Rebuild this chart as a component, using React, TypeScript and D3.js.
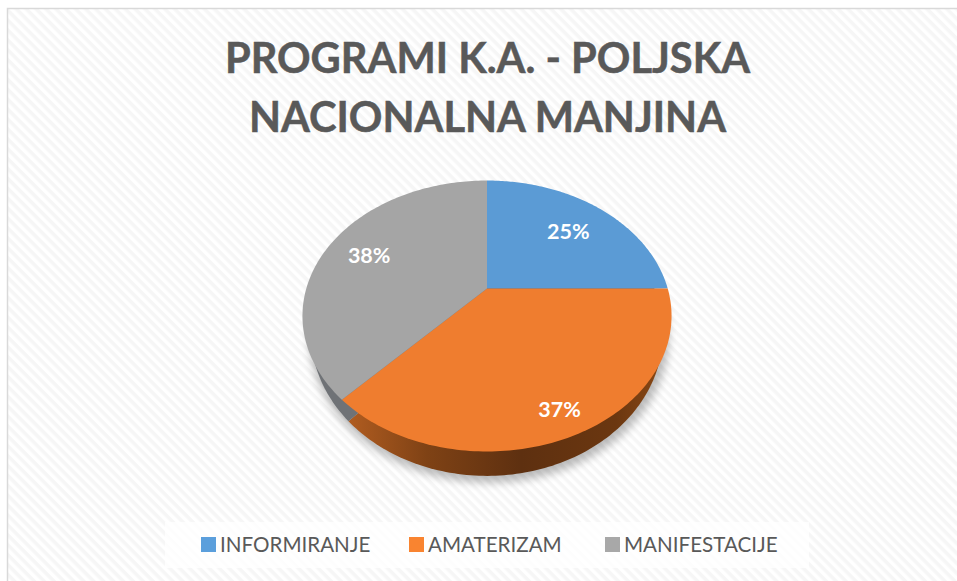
import React, { useEffect, useRef } from 'react';
import * as d3 from 'd3';

const categories = ['INFORMIRANJE', 'AMATERIZAM', 'MANIFESTACIJE'];
const shares = [25, 37, 38];
const topColors = ['#5b9bd5', '#ef7d2f', '#a5a5a5'];
const legendColors = ['#5b9fdc', '#f98430', '#a8a8a8'];
const titleLines = ['PROGRAMI K.A. - POLJSKA', 'NACIONALNA MANJINA'];

const FONT = 'Lato, "Open Sans", sans-serif';
const TILT = 0.203; // perspective of the pie disc

// disc in perspective: x/y of an angle (0 = top, clockwise) at radius r (0..1)
const projector = (cx, cy, rx, ry) => (angle, r = 1) => {
  const u = Math.sin(angle) * r;
  const v = -Math.cos(angle) * r;
  const w = 1 - TILT * v;
  return [cx + (rx * u) / w, cy + (ry * v) / w];
};

const App = () => {
  const svgRef = useRef(null);

  useEffect(() => {
    const svg = d3.select(svgRef.current);
    svg.selectAll('*').remove();

    const width = 957;
    const height = 581;
    const defs = svg.append('defs');

    // hatch background
    const hatch = defs
      .append('pattern')
      .attr('id', 'hatch')
      .attr('width', 7)
      .attr('height', 7)
      .attr('patternUnits', 'userSpaceOnUse')
      .attr('patternTransform', 'rotate(45)');
    hatch.append('rect').attr('width', 7).attr('height', 7).attr('fill', '#ffffff');
    hatch.append('rect').attr('width', 7).attr('height', 3.5).attr('fill', '#f6f6f6');

    const blur = defs.append('filter').attr('id', 'soft').attr('x', '-20%').attr('y', '-20%').attr('width', '140%').attr('height', '140%');
    blur.append('feGaussianBlur').attr('stdDeviation', 4);

    const sideOrange = defs.append('linearGradient').attr('id', 'sideOrange');
    [['0%', '#b05c20'], ['25%', '#7f4215'], ['55%', '#5e3010'], ['85%', '#6b3710'], ['100%', '#8a4815']].forEach(([o, c]) =>
      sideOrange.append('stop').attr('offset', o).attr('stop-color', c)
    );

    svg.append('rect').attr('width', width).attr('height', height).attr('fill', '#ffffff');
    svg.append('rect').attr('x', 7).attr('y', 8).attr('width', width - 7).attr('height', height - 8).attr('fill', 'url(#hatch)');
    svg.append('path').attr('d', `M7.5,${height}V8.5H${width}`).attr('fill', 'none').attr('stroke', '#d9d9d9').attr('stroke-width', 1.5);

    // title
    svg
      .selectAll('.title')
      .data(titleLines)
      .enter()
      .append('text')
      .attr('x', 487.5)
      .attr('y', (d, i) => 73 + i * 59)
      .attr('text-anchor', 'middle')
      .attr('font-family', FONT)
      .attr('font-weight', 700)
      .attr('font-size', 41.6)
      .attr('fill', '#595959')
      .attr('stroke', '#595959')
      .attr('stroke-width', 0.5)
      .text(d => d);

    // pie
    const arcs = d3.pie().sort(null).value(d => d)(shares);
    const line = d3.line();
    const top = projector(487, 288.5, 180.7, 129.9);
    const bottom = projector(487, 304, 172.4, 137);

    const wedge = (project, a) => {
      const steps = d3.range(0, 121).map(i => a.startAngle + ((a.endAngle - a.startAngle) * i) / 120);
      return `${line([project(0, 0), ...steps.map(t => project(t))])}Z`;
    };
    const disc = project => `${line(d3.range(0, 241).map(i => project((i / 240) * 2 * Math.PI)))}Z`;

    svg
      .append('path')
      .attr('d', disc(projector(489, 307, 176, 140)))
      .attr('fill', '#000000')
      .attr('opacity', 0.26)
      .attr('filter', 'url(#soft)');

    svg
      .selectAll('.side')
      .data(arcs)
      .enter()
      .append('path')
      .attr('d', d => wedge(bottom, d))
      .attr('fill', (d, i) => (i === 2 ? '#6f7276' : i === 1 ? 'url(#sideOrange)' : '#3f6f9c'));

    svg
      .selectAll('.slice')
      .data(arcs)
      .enter()
      .append('path')
      .attr('d', d => wedge(top, d))
      .attr('fill', (d, i) => topColors[i]);

    // value labels
    const labelSpots = [0.7, 0.85, 0.74];
    svg
      .selectAll('.pct')
      .data(arcs)
      .enter()
      .append('text')
      .attr('x', (d, i) => top((d.startAngle + d.endAngle) / 2, labelSpots[i])[0])
      .attr('y', (d, i) => top((d.startAngle + d.endAngle) / 2, labelSpots[i])[1] + 8.5)
      .attr('text-anchor', 'middle')
      .attr('font-family', FONT)
      .attr('font-weight', 700)
      .attr('font-size', 21.5)
      .attr('fill', '#ffffff')
      .text(d => `${d.data}%`);

    // legend
    svg.append('rect').attr('x', 165).attr('y', 522).attr('width', 644).attr('height', 46).attr('fill', '#ffffff').attr('opacity', 0.8);
    const legendX = d3.scaleOrdinal().domain(categories).range([201, 409, 605]);
    const legend = svg
      .selectAll('.legend')
      .data(categories)
      .enter()
      .append('g')
      .attr('transform', d => `translate(${legendX(d)},537)`);
    legend.append('rect').attr('width', 15).attr('height', 15).attr('fill', (d, i) => legendColors[i]);
    legend
      .append('text')
      .attr('x', 19)
      .attr('y', 15)
      .attr('font-family', FONT)
      .attr('font-size', 20.6)
      .attr('fill', '#595959')
      .text(d => d);
  }, []);

  return <svg ref={svgRef} width={957} height={581} style={{ position: 'absolute', left: 0, top: 0 }} />;
};

export default App;
